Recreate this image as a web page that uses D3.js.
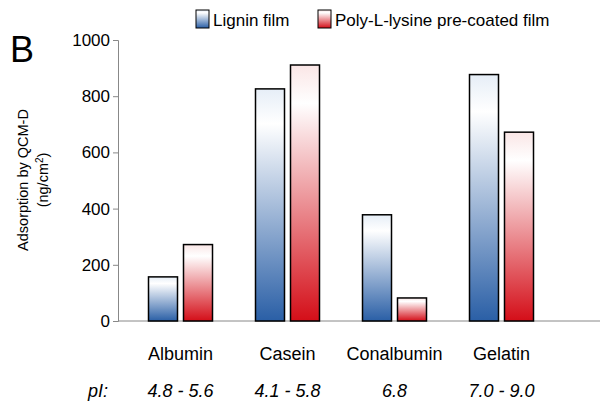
<!DOCTYPE html><html><head><meta charset="utf-8"><script src="https://cdn.jsdelivr.net/npm/d3@7"></script>
<style>body{margin:0;background:#fff}text{font-family:Arial,"Liberation Sans",sans-serif}</style></head><body><svg id="c" width="608" height="404"></svg><script>
const categories=["Albumin","Casein","Conalbumin","Gelatin"];
const pI=["4.8 - 5.6","4.1 - 5.8","6.8","7.0 - 9.0"];
const lignin=[157,826,378,877];
const pll=[272,911,82,672];
const seriesNames=["Lignin film","Poly-L-lysine pre-coated film"];
const yTicks=[0,200,400,600,800,1000];
const svg=d3.select("#c");
const defs=svg.append("defs");
function grad(id,light,dark){const g=defs.append("linearGradient").attr("id",id).attr("x1",0).attr("y1",0).attr("x2",0).attr("y2",1);
g.append("stop").attr("offset","0%").attr("stop-color",light);g.append("stop").attr("offset","15%").attr("stop-color","#ffffff");
g.append("stop").attr("offset","100%").attr("stop-color",dark);}
grad("gb","#e6eef7","#2a5fa6");grad("gr","#fae6e6","#d40e18");
const y=d3.scaleLinear().domain([0,1000]).range([321,40]);
const x=d3.scaleBand().domain(categories).range([127,555]);
const L=118,R=600;
svg.append("g").attr("transform",`translate(${L},0)`).call(d3.axisLeft(y).tickValues(yTicks).tickSize(5).tickFormat(d3.format("d")))
 .call(g=>{g.selectAll("text").attr("font-size",17).attr("fill","#000");g.select(".domain").attr("stroke","#888");g.selectAll("line").attr("stroke","#888");});
svg.append("line").attr("x1",L).attr("x2",R).attr("y1",y(0)).attr("y2",y(0)).attr("stroke","#888");
const bw=29;
categories.forEach((c,i)=>{const cx=x(c)+x.bandwidth()/2;
 [[lignin[i],"gb",cx-bw-3],[pll[i],"gr",cx+3]].forEach(([v,f,bx])=>{
  svg.append("rect").attr("x",bx).attr("y",y(v)).attr("width",bw).attr("height",y(0)-y(v)).attr("fill",`url(#${f})`).attr("stroke","#000").attr("stroke-width",1.5);});
 svg.append("text").attr("x",cx).attr("y",360).attr("text-anchor","middle").attr("font-size",18).text(c);
 svg.append("text").attr("x",cx).attr("y",397).attr("text-anchor","middle").attr("font-size",18).attr("font-style","italic").text(pI[i]);
});
svg.append("text").attr("x",88).attr("y",397).attr("font-size",18).attr("font-style","italic").text("pI:");
svg.append("text").attr("x",10).attr("y",62).attr("font-size",36).text("B");
const yl=svg.append("text").attr("transform","translate(30,180) rotate(-90)").attr("text-anchor","middle").attr("font-size",14.5);
yl.append("tspan").attr("x",0).attr("dy",-2).text("Adsorption by QCM-D");
const t2=yl.append("tspan").attr("x",0).attr("dy",20).text("(ng/cm");t2.append("tspan").attr("font-size",10).attr("dy",-5).text("2");yl.append("tspan").attr("dy",5).text(")");
[[196,"gb",0],[318,"gr",1]].forEach(([lx,f,i])=>{svg.append("rect").attr("x",lx).attr("y",10).attr("width",13).attr("height",18).attr("fill",`url(#${f})`).attr("stroke","#000");
 svg.append("text").attr("x",lx+17).attr("y",26).attr("font-size",17).text(seriesNames[i]);});
</script></body></html>
